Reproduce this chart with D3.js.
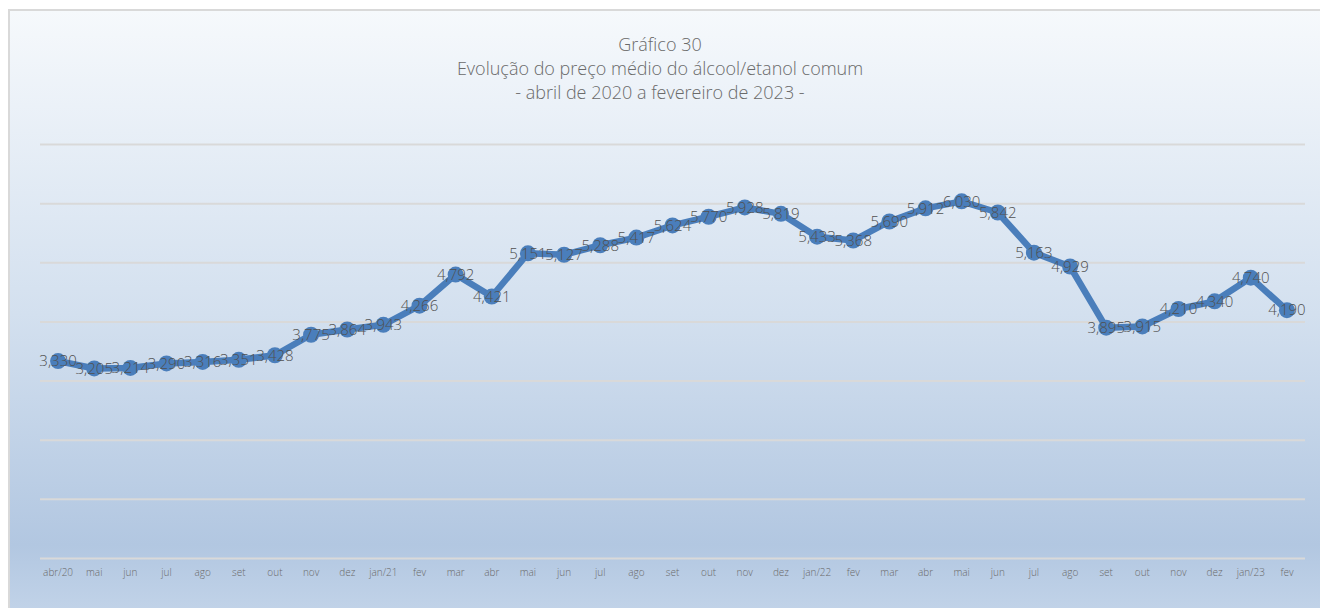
<!DOCTYPE html>
<html>
<head>
<meta charset="utf-8">
<script src="https://cdn.jsdelivr.net/npm/d3@7"></script>
<style>
  body { margin: 0; background: #ffffff; }
  svg { display: block; }
</style>
</head>
<body>
<div id="chart"></div>
<script>
// Data
let months = ["abr/20","mai","jun","jul","ago","set","out","nov","dez","jan/21","fev","mar",
              "abr","mai","jun","jul","ago","set","out","nov","dez","jan/22","fev","mar",
              "abr","mai","jun","jul","ago","set","out","nov","dez","jan/23","fev"];
let prices = [3.330,3.205,3.214,3.290,3.316,3.351,3.428,3.775,3.864,3.943,4.266,4.792,
              4.421,5.151,5.127,5.288,5.417,5.624,5.770,5.928,5.819,5.433,5.368,5.690,
              5.912,6.030,5.842,5.163,4.929,3.895,3.915,4.210,4.340,4.740,4.190];
let yTicks = [0,1,2,3,4,5,6,7];
let titleLines = ["Gráfico 30",
                  "Evolução do preço médio do álcool/etanol comum",
                  "- abril de 2020 a fevereiro de 2023 -"];

let W = 1320, H = 608;
let plot = {left: 40, right: 1305, top: 144, bottom: 558};

let svg = d3.select("#chart").append("svg")
            .attr("width", W)
            .attr("height", H);

// background gradient
let grad = svg.append("defs").append("linearGradient")
              .attr("id", "bg")
              .attr("x1", 0).attr("y1", 0).attr("x2", 0).attr("y2", 1);
grad.append("stop").attr("offset", "0%").attr("stop-color", "#f6f9fc");
grad.append("stop").attr("offset", "50%").attr("stop-color", "#d3e0ef");
grad.append("stop").attr("offset", "88%").attr("stop-color", "#b2c7e1");
grad.append("stop").attr("offset", "100%").attr("stop-color", "#c3d4e9");

svg.append("rect")
   .attr("x", 9).attr("y", 10)
   .attr("width", W).attr("height", H)
   .attr("fill", "url(#bg)")
   .attr("stroke", "#d9d9d9")
   .attr("stroke-width", 2);

// title
svg.append("g").selectAll("text").data(titleLines).enter().append("text")
   .attr("x", 660)
   .attr("y", (d, i) => 51 + i * 24)
   .attr("text-anchor", "middle")
   .style("font-family", "'Open Sans', sans-serif")
   .style("font-weight", 300)
   .style("font-size", "18px")
   .style("fill", "#6a6a6a")
   .text(d => d);

// scales
let xScale = d3.scaleBand().domain(d3.range(months.length))
               .range([plot.left, plot.right]);
let yScale = d3.scaleLinear().domain([0, 7]).range([plot.bottom, plot.top]);
let xc = i => xScale(i) + xScale.bandwidth() / 2;

// gridlines
svg.append("g")
   .attr("transform", "translate(" + plot.left + ",0)")
   .call(d3.axisLeft(yScale).tickValues(yTicks)
           .tickSize(-(plot.right - plot.left)).tickFormat(""))
   .call(g => g.select(".domain").remove())
   .call(g => g.selectAll("line").attr("stroke", "#d9d9d9").attr("stroke-width", 2));

// x axis labels
svg.append("g")
   .attr("transform", "translate(0," + plot.bottom + ")")
   .call(d3.axisBottom(xScale).tickSize(0).tickPadding(11).tickFormat(i => months[i]))
   .call(g => g.select(".domain").remove())
   .call(g => g.selectAll("text")
               .style("font-family", "'Open Sans', sans-serif")
               .style("font-weight", 300)
               .style("font-size", "10px")
               .style("fill", "#6a6a6a"));

// line
let line = d3.line().x((d, i) => xc(i)).y(d => yScale(d));
svg.append("path")
   .datum(prices)
   .attr("d", line)
   .attr("fill", "none")
   .attr("stroke", "#4a7ebb")
   .attr("stroke-width", 6.5)
   .attr("stroke-linejoin", "round");

svg.append("g").selectAll("circle").data(prices).enter().append("circle")
   .attr("cx", (d, i) => xc(i))
   .attr("cy", d => yScale(d))
   .attr("r", 8)
   .attr("fill", "#4a7ebb");

// data labels
let fmt = d => d.toFixed(3).replace(".", ",");
svg.append("g").selectAll("text").data(prices).enter().append("text")
   .attr("x", (d, i) => xc(i))
   .attr("y", d => yScale(d))
   .attr("dy", "0.35em")
   .attr("text-anchor", "middle")
   .style("font-family", "'Open Sans', sans-serif")
   .style("font-weight", 300)
   .style("font-size", "15px")
   .style("fill", "#505050")
   .text(fmt);
</script>
</body>
</html>
